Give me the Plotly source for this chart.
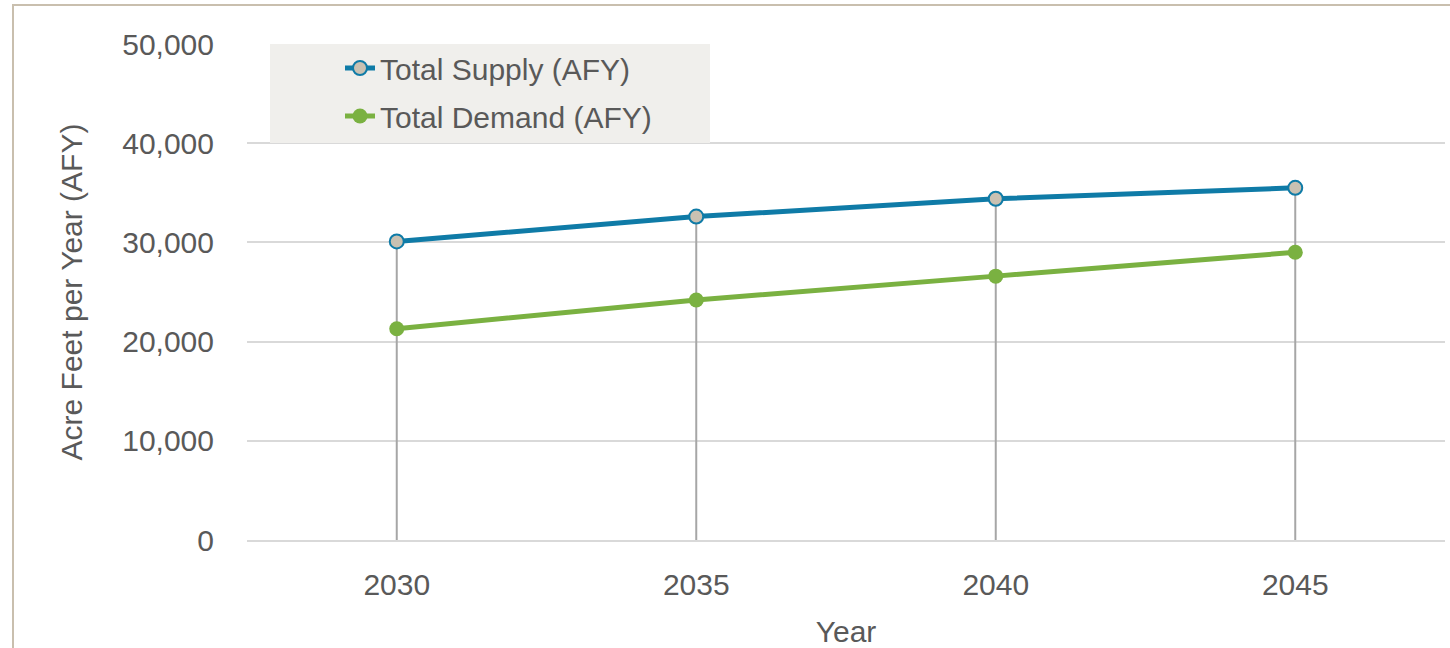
import plotly.graph_objects as go

years = ["2030", "2035", "2040", "2045"]
total_supply = [30100, 32600, 34400, 35500]
total_demand = [21300, 24200, 26600, 29000]
y_ticks = [0, 10000, 20000, 30000, 40000, 50000]
y_tick_labels = ["0", "10,000", "20,000", "30,000", "40,000", "50,000"]

FONT = "Liberation Sans, Arial, sans-serif"
FS = 30
TXT = "#595959"
BLUE = "#0F7BA7"
GREEN = "#7AB141"

# drop lines from each point down to the axis
drop_x, drop_y = [], []
for i, yr in enumerate(years):
    drop_x += [yr, yr, None]
    drop_y += [0, max(total_supply[i], total_demand[i]), None]

fig = go.Figure()
fig.add_trace(go.Scatter(x=drop_x, y=drop_y, mode="lines",
                         line=dict(color="#A6A6A6", width=2),
                         showlegend=False, hoverinfo="skip"))
fig.add_trace(go.Scatter(x=years, y=total_supply, mode="lines+markers",
                         name="Total Supply (AFY)", legendgroup="s",
                         line=dict(color=BLUE, width=5),
                         marker=dict(size=14, color="#C9C1B2",
                                     line=dict(color=BLUE, width=2))))
fig.add_trace(go.Scatter(x=years, y=total_demand, mode="lines+markers",
                         name="Total Demand (AFY)", legendgroup="d",
                         line=dict(color=GREEN, width=5),
                         marker=dict(size=15, color=GREEN)))

W, H = 1450, 648
L, R, T, B = 247, 5, 44, 108
pw, ph = W - L - R, H - T - B

def px(x):
    return (x - L) / pw

def py(y):
    return (H - B - y) / ph

fig.update_layout(
    width=W, height=H,
    margin=dict(l=L, r=R, t=T, b=B, autoexpand=False),
    paper_bgcolor="white", plot_bgcolor="white",
    font=dict(family=FONT, size=FS, color=TXT),
    xaxis=dict(type="category", range=[-0.5, 3.5], showgrid=False,
               showline=True, linecolor="#D9D9D9", linewidth=1.5,
               ticks="", ticklabelstandoff=17, automargin=False,
               tickfont=dict(size=FS, color=TXT),
               title=dict(text="Year", font=dict(size=FS, color=TXT), standoff=22)),
    yaxis=dict(range=[0, 50000], tickvals=y_ticks, ticktext=y_tick_labels,
               showgrid=True, gridcolor="#D9D9D9", gridwidth=1.5,
               zeroline=False, ticks="", ticklabelstandoff=32, automargin=False,
               tickfont=dict(size=FS, color=TXT),
               title=dict(text="Acre Feet per Year (AFY)",
                          font=dict(size=FS, color=TXT), standoff=30)),
    legend=dict(x=px(340), y=py(42), xanchor="left", yanchor="top",
                bgcolor="rgba(0,0,0,0)", font=dict(size=FS, color=TXT),
                tracegroupgap=6),
    shapes=[
        dict(type="rect", xref="paper", yref="paper",
             x0=px(270), x1=px(710), y0=py(143), y1=py(44),
             fillcolor="#F0EFEC", line=dict(width=0), layer="above"),
        dict(type="rect", xref="paper", yref="paper",
             x0=px(13), x1=px(1460), y0=py(660), y1=py(5),
             line=dict(color="#C9BFAE", width=2), fillcolor="rgba(0,0,0,0)"),
    ],
    showlegend=True,
)

fig.write_html("out.html",
               config={"displayModeBar": False},
               post_script="document.body.style.margin='0';")
